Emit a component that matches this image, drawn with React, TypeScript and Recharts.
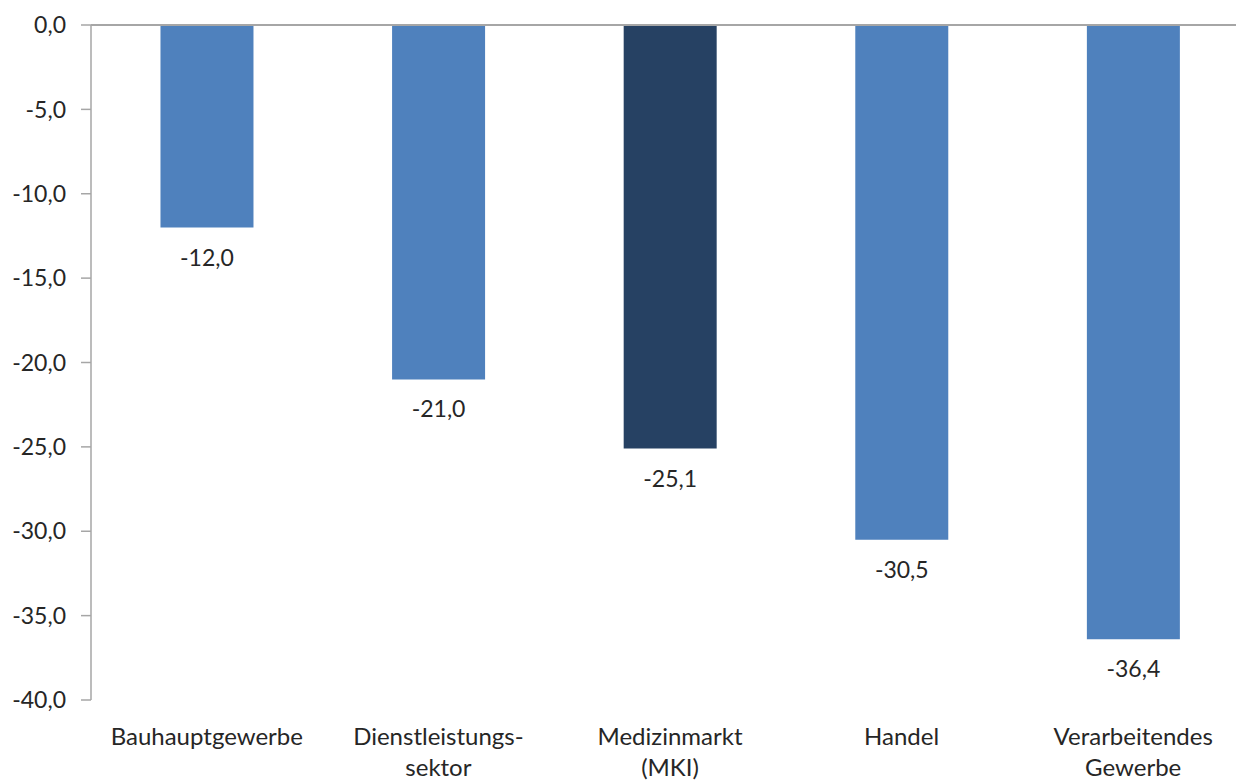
import { BarChart, Bar, XAxis, YAxis, Cell, LabelList, ReferenceLine } from 'recharts'

const categories = ['Bauhauptgewerbe', 'Dienstleistungs-\nsektor', 'Medizinmarkt\n(MKI)', 'Handel', 'Verarbeitendes\nGewerbe']
const values = [-12.0, -21.0, -25.1, -30.5, -36.4]
const highlight = [false, false, true, false, false]
const yTicks = [0, -5, -10, -15, -20, -25, -30, -35, -40]
const boundaryTicks = [0, 1, 2, 3, 4, 5]

const data = categories.map((name, i) => ({ name, value: values[i], idx: i }))

const fmt = (v: number) => v.toFixed(1).replace('.', ',')
const FONT = 'Lato, "Open Sans", sans-serif'
const TEXT = '#262626'
const AXIS = '#A6A6A6'

const CategoryTick = (props: any) => {
  const { x, y, payload } = props
  const lines = String(payload.value).split('\n')
  return (
    <g transform={`translate(${x},${y})`}>
      {lines.map((l: string, i: number) => (
        <text key={i} x={0} y={i * 31} textAnchor="middle" dominantBaseline="central" fill={TEXT} fontSize={24} fontFamily={FONT}>
          {l}
        </text>
      ))}
    </g>
  )
}

const BarLabel = (props: any) => {
  const { x, y, width, height, value } = props
  const bottom = Math.max(y, y + height)
  return (
    <text x={x + width / 2} y={bottom + 29} textAnchor="middle" dominantBaseline="central" fill={TEXT} fontSize={23} fontFamily={FONT}>
      {fmt(value)}
    </text>
  )
}

export default function App() {
  return (
    <div style={{ position: 'absolute', left: 0, top: 0, width: 1236, height: 781, overflow: 'hidden', background: '#fff' }}>
      <BarChart
        width={1250}
        height={781}
        data={data}
        margin={{ top: 25, right: 1, left: 0, bottom: 51 }}
        barCategoryGap="30%"
      >
        <XAxis
          dataKey="name"
          xAxisId="cat"
          axisLine={false}
          tickLine={false}
          interval={0}
          tick={<CategoryTick />}
          tickMargin={29}
          height={30}
        />
        <XAxis
          xAxisId="edge"
          type="number"
          orientation="top"
          domain={[0, 5]}
          ticks={boundaryTicks}
          tick={false}
          axisLine={false}
          tickLine={{ stroke: AXIS, strokeWidth: 1.5 }}
          tickSize={8}
          mirror
          height={0}
        />
        <YAxis
          yAxisId="y"
          domain={[-40, 0]}
          ticks={yTicks}
          interval={0}
          width={91}
          axisLine={{ stroke: AXIS, strokeWidth: 1.5 }}
          tickLine={{ stroke: AXIS, strokeWidth: 1.5 }}
          tickSize={10}
          tickMargin={15}
          tickFormatter={fmt}
          tick={{ fill: TEXT, fontSize: 23, fontFamily: FONT }}
        />
        <ReferenceLine y={0} yAxisId="y" xAxisId="cat" stroke={AXIS} strokeWidth={2} />
        <Bar dataKey="value" xAxisId="cat" yAxisId="y" isAnimationActive={false}>
          {data.map((d, i) => (
            <Cell key={d.name} fill={highlight[i] ? '#264163' : '#4F81BD'} />
          ))}
          <LabelList dataKey="value" content={<BarLabel />} />
        </Bar>
      </BarChart>
    </div>
  )
}
